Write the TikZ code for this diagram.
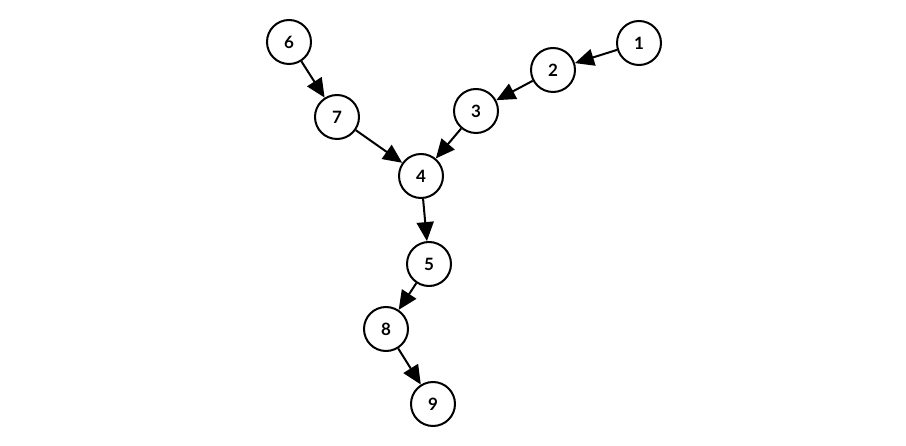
\documentclass[tikz,border=0pt]{standalone}
\usepackage{fontspec}
\setmainfont{Lato}
\usetikzlibrary{arrows.meta}
\begin{document}
\begin{tikzpicture}[x=1pt,y=-1pt,
  vtx/.style={circle,draw=black,line width=2pt,minimum size=44pt,inner sep=0pt,font=\fontsize{17}{17}\selectfont\bfseries},
  edge/.style={line width=2pt,-{Triangle[length=19pt,width=17pt]},shorten >=0pt}]
\useasboundingbox (0,0) rectangle (906,446);
\node[vtx] (n1) at (639,43) {1};
\node[vtx] (n2) at (553,70) {2};
\node[vtx] (n3) at (476,111) {3};
\node[vtx] (n4) at (421,176) {4};
\node[vtx] (n5) at (429,264) {5};
\node[vtx] (n6) at (289,42) {6};
\node[vtx] (n7) at (337,117) {7};
\node[vtx] (n8) at (386,329) {8};
\node[vtx] (n9) at (433,404) {9};
\draw[edge] (n1) -- (n2);
\draw[edge] (n2) -- (n3);
\draw[edge] (n3) -- (n4);
\draw[edge] (n6) -- (n7);
\draw[edge] (n7) -- (n4);
\draw[edge] (n4) -- (n5);
\draw[edge] (n5) -- (n8);
\draw[edge] (n8) -- (n9);
\end{tikzpicture}
\end{document}
